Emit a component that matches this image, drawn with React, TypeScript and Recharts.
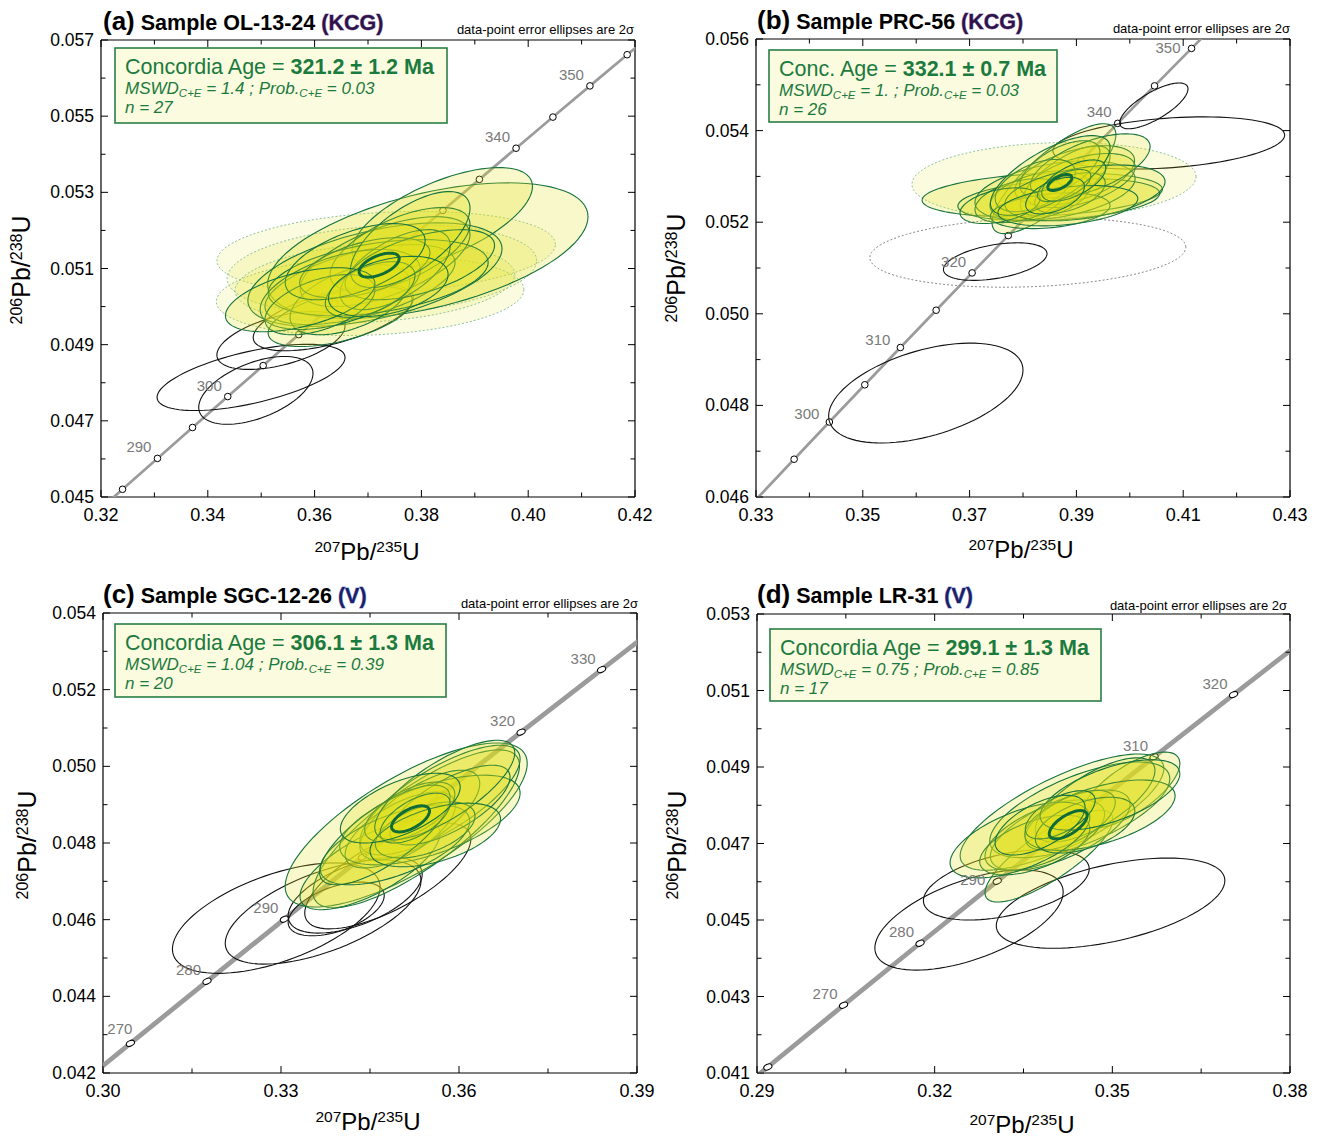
import React from "react";
import { ScatterChart, Scatter, XAxis, YAxis } from "recharts";

const FONT = '"Liberation Sans", Arial, Helvetica, sans-serif';
const GREEN_TXT = "#1b7a3e";

// decay constants, per Ma
const L235 = 9.8485e-4;
const L238 = 1.55125e-4;
const conc = (t: number) => ({ x: Math.expm1(L235 * t), y: Math.expm1(L238 * t), t });

// ellipse: [x, y, 2s(x), 2s(y), rho]
type Ell = [number, number, number, number, number];

// ---------- (a) OL-13-24 ----------
const xTicksA = [0.32, 0.33, 0.34, 0.35, 0.36, 0.37, 0.38, 0.39, 0.4, 0.41, 0.42];
const yTicksA = [0.045, 0.046, 0.047, 0.048, 0.049, 0.05, 0.051, 0.052, 0.053, 0.054, 0.055, 0.056, 0.057];
const curveAgesA = [275, 280, 285, 290, 295, 300, 305, 310, 315, 320, 325, 330, 335, 340, 345, 350, 355, 360, 365];
const markAgesA = [285, 290, 295, 300, 305, 310, 315, 320, 325, 330, 335, 340, 345, 350, 355];
const labelAgesA = [290, 300, 340, 350];
const blackA: Ell[] = [
  [0.3481, 0.04814, 0.0176, 0.00087, 0.6],
  [0.349, 0.0478, 0.0107, 0.00089, 0.5],
  [0.3537, 0.04911, 0.012, 0.00076, 0.5],
  [0.3635, 0.04971, 0.015, 0.00087, 0.6],
];
const dottedA: Ell[] = [
  [0.3734, 0.05142, 0.0317, 0.00108, 0.2],
  [0.3704, 0.05029, 0.0288, 0.00105, 0.15],
  [0.3726, 0.05097, 0.029, 0.00118, 0.2],
  [0.3713, 0.05063, 0.0262, 0.00105, 0.2],
];
const greenA: Ell[] = [
  [0.3812, 0.05147, 0.03, 0.00178, 0.5],
  [0.3839, 0.05231, 0.0169, 0.00134, 0.63],
  [0.3713, 0.05084, 0.0238, 0.00136, 0.5],
  [0.3648, 0.04974, 0.0135, 0.00079, 0.55],
  [0.3685, 0.05058, 0.0178, 0.00105, 0.55],
  [0.3732, 0.05118, 0.0159, 0.00118, 0.6],
  [0.3666, 0.05018, 0.0112, 0.00092, 0.5],
  [0.376, 0.0515, 0.0131, 0.0011, 0.6],
  [0.3719, 0.05076, 0.0206, 0.001, 0.4],
  [0.3648, 0.05045, 0.015, 0.00105, 0.5],
  [0.3751, 0.05097, 0.0103, 0.00105, 0.6],
  [0.3694, 0.05102, 0.0122, 0.00079, 0.5],
  [0.3797, 0.0511, 0.014, 0.00092, 0.55],
  [0.361, 0.05005, 0.0103, 0.00079, 0.5],
  [0.3704, 0.05045, 0.0084, 0.00073, 0.5],
  [0.3779, 0.05176, 0.0112, 0.00126, 0.65],
  [0.3676, 0.05118, 0.0131, 0.001, 0.55],
  [0.3573, 0.05018, 0.014, 0.00084, 0.5],
  [0.3738, 0.05053, 0.0112, 0.00079, 0.4],
];
const ageA = 321.2;
const ageErrA = 1.2;
const ageShapeA = [0.00375, 0.000315, 0.55];

// ---------- (b) PRC-56 ----------
const xTicksB = [0.33, 0.34, 0.35, 0.36, 0.37, 0.38, 0.39, 0.4, 0.41, 0.42, 0.43];
const yTicksB = [0.046, 0.047, 0.048, 0.049, 0.05, 0.051, 0.052, 0.053, 0.054, 0.055, 0.056];
const curveAgesB = [285, 290, 295, 300, 305, 310, 315, 320, 325, 330, 335, 340, 345, 350, 355, 360];
const markAgesB = [295, 300, 305, 310, 315, 320, 325, 330, 335, 340, 345, 350];
const labelAgesB = [300, 310, 320, 340, 350];
const blackB: Ell[] = [
  [0.3618, 0.04827, 0.0182, 0.00109, 0.46],
  [0.3748, 0.05114, 0.0097, 0.00041, 0.42],
  [0.4045, 0.05454, 0.0064, 0.0005, 0.74],
  [0.4073, 0.05373, 0.0217, 0.00057, 0.3],
];
const greyB: Ell[] = [[0.3809, 0.05134, 0.0296, 0.00076, 0.15]];
const dottedB: Ell[] = [[0.3858, 0.05291, 0.0266, 0.00083, 0.1]];
const greenB: Ell[] = [
  [0.3836, 0.0526, 0.0225, 0.00048, 0.25],
  [0.3867, 0.05249, 0.0189, 0.00046, 0.3],
  [0.3858, 0.05295, 0.0116, 0.0012, 0.8],
  [0.386, 0.05269, 0.015, 0.00065, 0.4],
  [0.3897, 0.05302, 0.0112, 0.00065, 0.5],
  [0.3832, 0.05258, 0.0094, 0.00054, 0.4],
  [0.3879, 0.05291, 0.0084, 0.00076, 0.7],
  [0.3907, 0.05291, 0.0103, 0.00059, 0.5],
  [0.3794, 0.05247, 0.0084, 0.00048, 0.4],
  [0.3869, 0.05317, 0.0075, 0.00061, 0.6],
  [0.3926, 0.05323, 0.0112, 0.0007, 0.6],
  [0.3851, 0.05225, 0.0112, 0.00039, 0.3],
  [0.3823, 0.0528, 0.0075, 0.00057, 0.5],
  [0.3888, 0.05264, 0.0066, 0.00044, 0.5],
  [0.3916, 0.05264, 0.015, 0.00061, 0.4],
  [0.3757, 0.05236, 0.0075, 0.00039, 0.4],
  [0.3851, 0.05302, 0.0112, 0.00087, 0.7],
  [0.3884, 0.05236, 0.0131, 0.00044, 0.35],
  [0.3877, 0.0528, 0.005, 0.00035, 0.6],
  [0.3895, 0.05291, 0.006, 0.00045, 0.6],
  [0.386, 0.05258, 0.0055, 0.0004, 0.5],
];
const ageB = 332.1;
const ageErrB = 0.7;
const ageShapeB = [0.00225, 0.000174, 0.6];

// ---------- (c) SGC-12-26 ----------
const xTicksC = [0.3, 0.315, 0.33, 0.345, 0.36, 0.375, 0.39];
const yTicksC = [0.042, 0.043, 0.044, 0.045, 0.046, 0.047, 0.048, 0.049, 0.05, 0.051, 0.052, 0.053, 0.054];
const curveAgesC = [250, 260, 270, 280, 290, 300, 310, 320, 330, 340, 350];
const markAgesC = [270, 280, 290, 300, 310, 320, 330];
const labelAgesC = [270, 280, 290, 320, 330];
const blackC: Ell[] = [
  [0.3292, 0.04604, 0.0175, 0.00144, 0.56],
  [0.3371, 0.0462, 0.0165, 0.00136, 0.6],
  [0.3393, 0.04628, 0.0081, 0.0007, 0.5],
  [0.348, 0.04714, 0.014, 0.00138, 0.7],
  [0.3425, 0.04664, 0.0113, 0.00099, 0.55],
];
const greenC: Ell[] = [
  [0.3511, 0.04847, 0.0204, 0.00214, 0.75],
  [0.3528, 0.04837, 0.0174, 0.00206, 0.8],
  [0.345, 0.04743, 0.0118, 0.00117, 0.7],
  [0.3568, 0.04912, 0.0135, 0.00143, 0.75],
  [0.3534, 0.04873, 0.0101, 0.00117, 0.7],
  [0.3501, 0.04834, 0.0093, 0.00099, 0.65],
  [0.3551, 0.0486, 0.0152, 0.00117, 0.6],
  [0.3492, 0.04795, 0.0126, 0.00104, 0.6],
  [0.3585, 0.04899, 0.0101, 0.00104, 0.7],
  [0.3517, 0.04881, 0.0076, 0.00078, 0.6],
  [0.3543, 0.04834, 0.0084, 0.00073, 0.5],
  [0.3475, 0.04821, 0.011, 0.0013, 0.75],
  [0.3576, 0.04938, 0.0118, 0.0013, 0.75],
  [0.3526, 0.04865, 0.0059, 0.00065, 0.6],
  [0.356, 0.04821, 0.011, 0.00083, 0.5],
  [0.3501, 0.04891, 0.0101, 0.00091, 0.6],
];
const ageC = 306.1;
const ageErrC = 1.3;
const ageShapeC = [0.0032, 0.00034, 0.6];

// ---------- (d) LR-31 ----------
const xTicksD = [0.29, 0.305, 0.32, 0.335, 0.35, 0.365, 0.38];
const yTicksD = [0.041, 0.042, 0.043, 0.044, 0.045, 0.046, 0.047, 0.048, 0.049, 0.05, 0.051, 0.052, 0.053];
const curveAgesD = [250, 260, 270, 280, 290, 300, 310, 320, 330, 340];
const markAgesD = [260, 270, 280, 290, 300, 310, 320];
const labelAgesD = [270, 280, 290, 310, 320];
const blackD: Ell[] = [
  [0.3258, 0.045, 0.0159, 0.00131, 0.56],
  [0.3497, 0.04544, 0.0193, 0.00118, 0.5],
  [0.3321, 0.04592, 0.014, 0.00092, 0.45],
];
const greenD: Ell[] = [
  [0.3415, 0.04782, 0.0172, 0.00152, 0.75],
  [0.3393, 0.04667, 0.0108, 0.0012, 0.8],
  [0.353, 0.0484, 0.0084, 0.00099, 0.7],
  [0.3445, 0.04788, 0.0152, 0.00125, 0.65],
  [0.3412, 0.04735, 0.0118, 0.00105, 0.65],
  [0.3386, 0.04722, 0.0101, 0.00092, 0.6],
  [0.3471, 0.04814, 0.0101, 0.0011, 0.7],
  [0.3429, 0.04761, 0.0076, 0.00078, 0.6],
  [0.3369, 0.04696, 0.0093, 0.00078, 0.55],
  [0.3479, 0.04774, 0.0127, 0.00092, 0.55],
  [0.3344, 0.04709, 0.0118, 0.00099, 0.6],
  [0.3454, 0.04748, 0.0084, 0.00073, 0.5],
  [0.3496, 0.04827, 0.0118, 0.00092, 0.6],
  [0.3412, 0.04775, 0.0059, 0.00063, 0.6],
  [0.3378, 0.04748, 0.0076, 0.00078, 0.6],
];
const ageD = 299.1;
const ageErrD = 1.3;
const ageShapeD = [0.0032, 0.00037, 0.65];

// ---------- drawing helpers ----------
const STYLE_GREEN = { fill: "#e2e21a", fillOpacity: 0.23, stroke: "#17733f", strokeWidth: 1.1 };
const STYLE_DOTTED = { fill: "#e2e21a", fillOpacity: 0.14, stroke: "#8fc29f", strokeWidth: 1, strokeDasharray: "2 2" };
const STYLE_BLACK = { fill: "none", stroke: "#111", strokeWidth: 1.1 };
const STYLE_GREY = { fill: "none", stroke: "#8a8a8a", strokeWidth: 1, strokeDasharray: "2 2" };
const STYLE_AGE = { fill: "none", stroke: "#0f6b38", strokeWidth: 3 };

// centre plus two conjugate points; the scatter line renderer maps them to pixels
const frame = (e: Ell) => {
  const [cx, cy, sx, sy, r] = e;
  return [
    { x: cx, y: cy },
    { x: cx + sx, y: cy + r * sy },
    { x: cx, y: cy + sy * Math.sqrt(1 - r * r) },
  ];
};

const ellipsePath = (style: any) => (p: any) => {
  const pts = p.points;
  if (!pts || pts.length < 3) return <g />;
  const [c, a, b] = pts;
  const ux = a.x - c.x, uy = a.y - c.y, vx = b.x - c.x, vy = b.y - c.y;
  let d = "";
  for (let i = 0; i <= 90; i++) {
    const th = (i / 90) * Math.PI * 2;
    const px = c.x + Math.cos(th) * ux + Math.sin(th) * vx;
    const py = c.y + Math.cos(th) * uy + Math.sin(th) * vy;
    d += (i ? "L" : "M") + px.toFixed(2) + "," + py.toFixed(2);
  }
  return <path d={d + "Z"} {...style} />;
};

const noShape = () => <g />;

function makeTick(side: "bottom" | "left" | "top" | "right", digits: number, label: boolean) {
  return (p: any) => {
    const major = p.index % 2 === 0;
    const len = major ? 7 : 4.5;
    const { x, y } = p;
    const v = Number(p.payload.value);
    const st = { stroke: "#000", strokeWidth: 1 };
    if (side === "bottom")
      return (
        <g>
          <line x1={x} x2={x} y1={y} y2={y - len} {...st} />
          {label && major && (
            <text x={x} y={y + 24} textAnchor="middle" fontSize={18} fontFamily={FONT} fill="#000">
              {v.toFixed(digits)}
            </text>
          )}
        </g>
      );
    if (side === "left")
      return (
        <g>
          <line x1={x} x2={x + len} y1={y} y2={y} {...st} />
          {label && major && (
            <text x={x - 7} y={y + 6} textAnchor="end" fontSize={17.5} fontFamily={FONT} fill="#000">
              {v.toFixed(digits)}
            </text>
          )}
        </g>
      );
    if (side === "top") return <line x1={x} x2={x} y1={y} y2={y + len} {...st} />;
    return <line x1={x} x2={x - len} y1={y} y2={y} {...st} />;
  };
}

type Panel = {
  pos: [number, number];
  margin: { top: number; right: number; bottom: number; left: number };
  xTicks: number[];
  yTicks: number[];
  curveAges: number[];
  markAges: number[];
  labelAges: number[];
  labelShift?: Record<number, [number, number]>;
  black: Ell[];
  grey: Ell[];
  dotted: Ell[];
  green: Ell[];
  age: number;
  ageShape: number[];
  heavy: boolean;
};

const panels: Panel[] = [
  {
    pos: [0, 0], margin: { top: 30, right: 15, bottom: 43, left: 61 },
    xTicks: xTicksA, yTicks: yTicksA, curveAges: curveAgesA, markAges: markAgesA, labelAges: labelAgesA,
    black: blackA, grey: [], dotted: dottedA, green: greenA, age: ageA, ageShape: ageShapeA, heavy: false,
  },
  {
    pos: [660, 0], margin: { top: 29, right: 20, bottom: 43, left: 56 },
    xTicks: xTicksB, yTicks: yTicksB, curveAges: curveAgesB, markAges: markAgesB, labelAges: labelAgesB,
    labelShift: { 350: [-11, 5], 300: [-10, -3], 310: [-10, -3] },
    black: blackB, grey: greyB, dotted: dottedB, green: greenB, age: ageB, ageShape: ageShapeB, heavy: false,
  },
  {
    pos: [0, 570], margin: { top: 33, right: 13, bottom: 37, left: 63 },
    xTicks: xTicksC, yTicks: yTicksC, curveAges: curveAgesC, markAges: markAgesC, labelAges: labelAgesC,
    labelShift: { 270: [2, -9] },
    black: blackC, grey: [], dotted: [], green: greenC, age: ageC, ageShape: ageShapeC, heavy: true,
  },
  {
    pos: [660, 570], margin: { top: 34, right: 20, bottom: 37, left: 57 },
    xTicks: xTicksD, yTicks: yTicksD, curveAges: curveAgesD, markAges: markAgesD, labelAges: labelAgesD,
    labelShift: { 290: [-12, 4] },
    black: blackD, grey: [], dotted: [], green: greenD, age: ageD, ageShape: ageShapeD, heavy: true,
  },
];

function ConcordiaPanel({ cfg }: { cfg: Panel }) {
  const xd: [number, number] = [cfg.xTicks[0], cfg.xTicks[cfg.xTicks.length - 1]];
  const yd: [number, number] = [cfg.yTicks[0], cfg.yTicks[cfg.yTicks.length - 1]];
  const curve = cfg.curveAges.map(conc);
  const marks = cfg.markAges.map(conc);
  const [asx, asy, ar] = cfg.ageShape;
  const ageC = conc(cfg.age);
  const ageEll: Ell = [ageC.x, ageC.y, asx, asy, ar];
  const axisLine = { stroke: "#000", strokeWidth: 1.2 };

  const layer = (list: Ell[], style: any, key: string) =>
    list.map((e, i) => (
      <Scatter
        key={key + i}
        data={frame(e)}
        line={ellipsePath(style)}
        lineType="joint"
        shape={noShape}
        isAnimationActive={false}
      />
    ));

  return (
    <div style={{ position: "absolute", left: cfg.pos[0], top: cfg.pos[1] }}>
      <ScatterChart width={660} height={570} margin={cfg.margin}>
        <XAxis type="number" dataKey="x" domain={xd} ticks={cfg.xTicks} interval={0} allowDataOverflow
          height={30} tickSize={0} tickMargin={0} tickLine={false} axisLine={axisLine}
          tick={makeTick("bottom", 2, true)} />
        <XAxis xAxisId="top" orientation="top" type="number" dataKey="x" domain={xd} ticks={cfg.xTicks} interval={0}
          allowDataOverflow height={10} tickSize={0} tickMargin={0} tickLine={false} axisLine={axisLine}
          tick={makeTick("top", 2, false)} />
        <YAxis type="number" dataKey="y" domain={yd} ticks={cfg.yTicks} interval={0} allowDataOverflow
          width={40} tickSize={0} tickMargin={0} tickLine={false} axisLine={axisLine}
          tick={makeTick("left", 3, true)} />
        <YAxis yAxisId="right" orientation="right" type="number" dataKey="y" domain={yd} ticks={cfg.yTicks}
          interval={0} allowDataOverflow width={10} tickSize={0} tickMargin={0} tickLine={false}
          axisLine={axisLine} tick={makeTick("right", 3, false)} />

        <Scatter data={curve} line={{ stroke: "#9b9b9b", strokeWidth: cfg.heavy ? 4.8 : 2.7 }} lineType="joint"
          shape={noShape} isAnimationActive={false} />
        <Scatter data={marks} isAnimationActive={false}
          shape={(p: any) =>
            cfg.heavy ? (
              <ellipse cx={p.cx} cy={p.cy} rx={4.3} ry={2.7} transform={`rotate(-25 ${p.cx} ${p.cy})`}
                fill="#fff" stroke="#000" strokeWidth={1} />
            ) : (
              <circle cx={p.cx} cy={p.cy} r={3.3} fill="#fff" stroke="#000" strokeWidth={1} />
            )
          } />

        {layer(cfg.grey, STYLE_GREY, "g")}
        {layer(cfg.black, STYLE_BLACK, "k")}
        {layer(cfg.dotted, STYLE_DOTTED, "d")}
        {layer(cfg.green, STYLE_GREEN, "e")}
        {layer([ageEll], STYLE_AGE, "a")}
      </ScatterChart>
    </div>
  );
}

// age labels sit on an unclipped copy of the same axes, so none get cut at the frame
function AgeLabels({ cfg }: { cfg: Panel }) {
  const xd: [number, number] = [cfg.xTicks[0], cfg.xTicks[cfg.xTicks.length - 1]];
  const yd: [number, number] = [cfg.yTicks[0], cfg.yTicks[cfg.yTicks.length - 1]];
  const labels = cfg.labelAges.map(conc);
  const m = cfg.margin;
  // hidden axes reserve no room, so their sizes go into the margin
  const margin = { top: m.top + 10, right: m.right + 10, bottom: m.bottom + 30, left: m.left + 40 };
  return (
    <div style={{ position: "absolute", left: cfg.pos[0], top: cfg.pos[1], pointerEvents: "none" }}>
      <ScatterChart width={660} height={570} margin={margin}>
        <XAxis type="number" dataKey="x" domain={xd} hide />
        <YAxis type="number" dataKey="y" domain={yd} hide />
        <Scatter data={labels} isAnimationActive={false}
          shape={(p: any) => {
            const t = p.payload.t;
            const [dx, dy] = (cfg.labelShift && cfg.labelShift[t]) || [-6, -6];
            return (
              <text x={p.cx + dx} y={p.cy + dy} textAnchor="end" fontSize={15} fontFamily={FONT} fill="#7a7a7a">
                {t}
              </text>
            );
          }} />
      </ScatterChart>
    </div>
  );
}

type Caption = {
  letter: string; sample: string; group: string; groupFill: string; groupStroke: string;
  title: [number, number]; note: [number, number];
  box: [number, number, number, number]; ageWord: string; age: number; err: number;
  mswd: string; prob: string; n: number;
  yTitle: [number, number]; xTitle: [number, number];
};

const captions: Caption[] = [
  { letter: "(a)", sample: "Sample OL-13-24", group: "(KCG)", groupFill: "#2e1248", groupStroke: "#a58fc8",
    title: [103, 30], note: [634, 34], box: [115, 48, 332, 75], ageWord: "Concordia Age", age: ageA, err: ageErrA,
    mswd: "1.4", prob: "0.03", n: 27, yTitle: [30, 270], xTitle: [367, 560] },
  { letter: "(b)", sample: "Sample PRC-56", group: "(KCG)", groupFill: "#2e1248", groupStroke: "#a58fc8",
    title: [757, 29], note: [1290, 33], box: [769, 50, 288, 72], ageWord: "Conc. Age", age: ageB, err: ageErrB,
    mswd: "1.", prob: "0.03", n: 26, yTitle: [685, 268], xTitle: [1021, 558] },
  { letter: "(c)", sample: "Sample SGC-12-26", group: "(V)", groupFill: "#1a2168", groupStroke: "#8e98dc",
    title: [103, 603], note: [638, 608], box: [115, 624, 331, 73], ageWord: "Concordia Age", age: ageC, err: ageErrC,
    mswd: "1.04", prob: "0.39", n: 20, yTitle: [36, 845], xTitle: [368, 1130] },
  { letter: "(d)", sample: "Sample LR-31", group: "(V)", groupFill: "#1a2168", groupStroke: "#8e98dc",
    title: [757, 603], note: [1287, 610], box: [770, 629, 331, 72], ageWord: "Concordia Age", age: ageD, err: ageErrD,
    mswd: "0.75", prob: "0.85", n: 17, yTitle: [686, 845], xTitle: [1022, 1133] },
];

function RatioLabel({ top, bottom, a, b, sup }: { top: string; bottom: string; a: string; b: string; sup: number }) {
  return (
    <>
      <tspan fontSize={sup} dy={-8}>{top}</tspan>
      <tspan dy={8}>{a}</tspan>
      <tspan fontSize={sup} dy={-8}>{bottom}</tspan>
      <tspan dy={8}>{b}</tspan>
    </>
  );
}

function Captions() {
  return (
    <svg width={1320} height={1140} style={{ position: "absolute", left: 0, top: 0, pointerEvents: "none" }}>
      {captions.map((c, i) => {
        const [bx, by, bw, bh] = c.box;
        return (
          <g key={i} fontFamily={FONT}>
            <text x={c.title[0]} y={c.title[1]} fontWeight="bold" fill="#000">
              <tspan fontSize={26}>{c.letter}</tspan>
              <tspan fontSize={21.5}> {c.sample} </tspan>
              <tspan fontSize={21.5} fill={c.groupFill} stroke={c.groupStroke} strokeWidth={0.8}
                style={{ paintOrder: "stroke" }}>{c.group}</tspan>
            </text>
            <text x={c.note[0]} y={c.note[1]} fontSize={13} textAnchor="end" fill="#000">
              data-point error ellipses are 2σ
            </text>
            <rect x={bx} y={by} width={bw} height={bh} fill="#fbfbdf" stroke="#2a7f48" strokeWidth={1.6} />
            <text x={bx + 10} y={by + 26} fontSize={21.5} fill={GREEN_TXT}>
              {c.ageWord} = <tspan fontWeight="bold">{c.age.toFixed(1)} ± {c.err.toFixed(1)} Ma</tspan>
            </text>
            <text x={bx + 10} y={by + 46} fontSize={17} fontStyle="italic" fill={GREEN_TXT}>
              MSWD<tspan fontSize={11.5} dy={3}>C+E</tspan>
              <tspan dy={-3}> = {c.mswd} ; Prob.</tspan>
              <tspan fontSize={11.5} dy={3}>C+E</tspan>
              <tspan dy={-3}> = {c.prob}</tspan>
            </text>
            <text x={bx + 10} y={by + 65} fontSize={17} fontStyle="italic" fill={GREEN_TXT}>
              n = {c.n}
            </text>
            <text x={c.xTitle[0]} y={c.xTitle[1]} fontSize={24} textAnchor="middle" fill="#000">
              <RatioLabel top="207" a="Pb/" bottom="235" b="U" sup={15.5} />
            </text>
            <text x={c.yTitle[0]} y={c.yTitle[1]} fontSize={25} textAnchor="middle" fill="#000"
              transform={`rotate(-90 ${c.yTitle[0]} ${c.yTitle[1]})`}>
              <RatioLabel top="206" a="Pb/" bottom="238" b="U" sup={16} />
            </text>
          </g>
        );
      })}
    </svg>
  );
}

export default function App() {
  return (
    <div style={{ position: "fixed", left: 0, top: 0, width: 1320, height: 1140, overflow: "hidden",
      background: "#fff", fontFamily: FONT }}>
      {panels.map((p, i) => (
        <ConcordiaPanel key={i} cfg={p} />
      ))}
      {panels.map((p, i) => (
        <AgeLabels key={"l" + i} cfg={p} />
      ))}
      <Captions />
    </div>
  );
}
